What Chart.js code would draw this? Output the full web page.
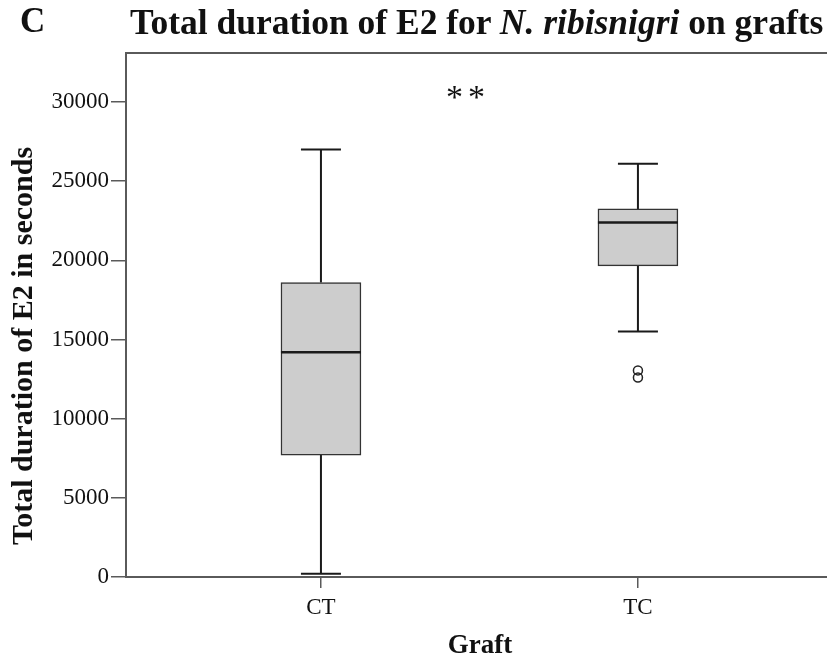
<!DOCTYPE html>
<html>
<head>
<meta charset="utf-8">
<script src="https://cdn.jsdelivr.net/npm/chart.js@4.4.0/dist/chart.umd.min.js"></script>
<style>
  html, body { margin: 0; padding: 0; background: #fff; overflow: hidden; }
  #wrap { position: relative; width: 827px; height: 656px; overflow: hidden; }
  #c { position: absolute; left: 0; top: 0; }
  .lbl { position: absolute; font-family: "Liberation Serif", "Times New Roman", serif; color: #111; white-space: nowrap; }
</style>
</head>
<body>
<div id="wrap">
  <canvas id="c" width="860" height="656"></canvas>
  <div class="lbl" style="left:20px;top:1px;font-size:35px;font-weight:bold">C</div>
  <div class="lbl" style="left:130px;top:1px;font-size:35.5px;font-weight:bold">Total duration of E2 for <i>N. ribisnigri</i> on grafts</div>
  <div class="lbl" style="left:446px;top:78px;font-size:34px;letter-spacing:5px">**</div>
  <div class="lbl" style="left:-228px;top:331px;width:500px;text-align:center;line-height:30px;font-size:30px;font-weight:bold;transform:rotate(-90deg)">Total duration of E2 in seconds</div>
  <div class="lbl" style="left:380px;top:629px;width:200px;text-align:center;line-height:30px;font-size:27px;font-weight:bold">Graft</div>
</div>
<script>
// ── DATA ─────────────────────────────────────────────────────
var categories = ['CT', 'TC'];
var whiskerLow = [200, 15500];
var q1 = [7700, 19650];
var median = [14200, 22400];
var q3 = [18600, 23250];
var whiskerHigh = [27000, 26100];
var outlierTC = [13050, 12600];
var yTicks = [0, 5000, 10000, 15000, 20000, 25000, 30000];

var FONT = '"Liberation Serif", "Times New Roman", serif';
var INK = '#1a1a1a';
var AXIS = '#5a5a5a';

// ── BOX PARTS (whiskers, caps, median) ───────────────────────
var boxParts = {
  id: 'boxParts',
  beforeDatasetsDraw: function (chart) {
    var ctx = chart.ctx, xs = chart.scales.x, ys = chart.scales.y;
    ctx.save();
    ctx.strokeStyle = INK;
    ctx.lineWidth = 2;
    for (var i = 0; i < categories.length; i++) {
      var cx = xs.getPixelForValue(i + 1);
      ctx.beginPath();
      ctx.moveTo(cx, ys.getPixelForValue(whiskerHigh[i]));
      ctx.lineTo(cx, ys.getPixelForValue(q3[i]));
      ctx.moveTo(cx, ys.getPixelForValue(q1[i]));
      ctx.lineTo(cx, ys.getPixelForValue(whiskerLow[i]));
      ctx.moveTo(cx - 20, ys.getPixelForValue(whiskerHigh[i]));
      ctx.lineTo(cx + 20, ys.getPixelForValue(whiskerHigh[i]));
      ctx.moveTo(cx - 20, ys.getPixelForValue(whiskerLow[i]));
      ctx.lineTo(cx + 20, ys.getPixelForValue(whiskerLow[i]));
      ctx.stroke();
    }
    ctx.restore();
  },
  afterDatasetsDraw: function (chart) {
    var ctx = chart.ctx, xs = chart.scales.x, ys = chart.scales.y;
    ctx.save();
    ctx.strokeStyle = INK;
    ctx.lineWidth = 2.5;
    for (var i = 0; i < categories.length; i++) {
      var cx = xs.getPixelForValue(i + 1);
      var my = ys.getPixelForValue(median[i]);
      ctx.beginPath();
      ctx.moveTo(cx - 40, my);
      ctx.lineTo(cx + 40, my);
      ctx.stroke();
    }
    // top / right frame line
    var a = chart.chartArea;
    ctx.strokeStyle = AXIS;
    ctx.lineWidth = 2;
    ctx.beginPath();
    ctx.moveTo(a.left, a.top);
    ctx.lineTo(a.right, a.top);
    ctx.lineTo(a.right, a.bottom);
    ctx.stroke();
    ctx.restore();
  }
};

new Chart(document.getElementById('c'), {
  type: 'bar',
  data: {
    datasets: [{
      type: 'bar',
      data: categories.map(function (c, i) { return { x: i + 1, y: [q1[i], q3[i]] }; }),
      backgroundColor: '#cdcdcd',
      borderColor: '#333',
      borderWidth: 1.5,
      borderSkipped: false,
      barThickness: 80
    }, {
      type: 'scatter',
      data: outlierTC.map(function (v) { return { x: 2, y: v }; }),
      pointStyle: 'circle',
      pointRadius: 4.5,
      borderColor: '#222',
      borderWidth: 1.5,
      backgroundColor: 'rgba(0,0,0,0)'
    }]
  },
  options: {
    responsive: false,
    animation: false,
    layout: { padding: { top: 53, right: 10, bottom: 0, left: 0 } },
    plugins: { legend: { display: false }, tooltip: { enabled: false }, title: { display: false } },
    scales: {
      x: {
        type: 'linear',
        offset: false,
        min: 0.385,
        max: 2.669,
        afterFit: function (s) { s.height = 79; },
        afterBuildTicks: function (s) { s.ticks = [{ value: 1 }, { value: 2 }]; },
        border: { display: true, color: AXIS, width: 2 },
        grid: { offset: false, drawOnChartArea: false, drawTicks: true, tickLength: 11, color: AXIS, lineWidth: 1.5 },
        ticks: {
          padding: 6,
          color: '#111',
          font: { family: FONT, size: 23 },
          callback: function (v) { return categories[v - 1]; }
        }
      },
      y: {
        min: 0,
        max: 33100,
        afterFit: function (s) { s.width = 126; },
        afterBuildTicks: function (s) { s.ticks = yTicks.map(function (v) { return { value: v }; }); },
        border: { display: true, color: AXIS, width: 2 },
        grid: { drawOnChartArea: false, drawTicks: true, tickLength: 15, color: AXIS, lineWidth: 1.5 },
        ticks: {
          padding: 2,
          color: '#111',
          font: { family: FONT, size: 23 },
          callback: function (v) { return String(v); }
        }
      }
    }
  },
  plugins: [boxParts]
});
</script>
</body>
</html>
